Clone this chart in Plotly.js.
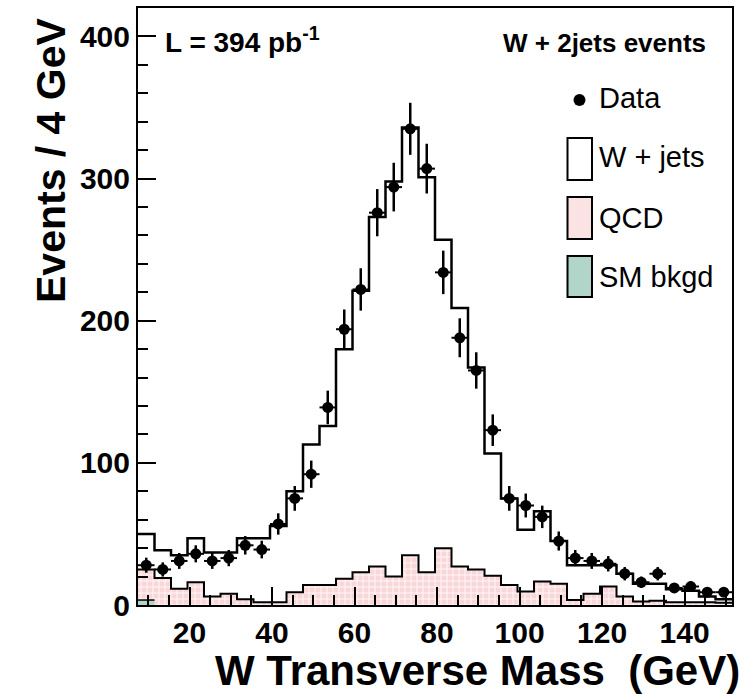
<!DOCTYPE html>
<html>
<head>
<meta charset="utf-8">
<script src="https://cdn.plot.ly/plotly-3.0.1.min.js"></script>
<style>
  html, body { margin: 0; padding: 0; background: #ffffff; }
  #chart { width: 747px; height: 694px; }
</style>
</head>
<body>
<div id="chart"></div>
<script>
// Transverse mass of W candidates in W + 2 jets events, 4 GeV bins
const binWidth = 4;
const binCenters = [9.5, 13.5, 17.5, 21.5, 25.5, 29.5, 33.5, 37.5, 41.5, 45.5,
                    49.5, 53.5, 57.5, 61.5, 65.5, 69.5, 73.5, 77.5, 81.5, 85.5,
                    89.5, 93.5, 97.5, 101.5, 105.5, 109.5, 113.5, 117.5, 121.5, 125.5,
                    129.5, 133.5, 137.5, 141.5, 145.5, 149.5];

// Observed events per bin and their statistical uncertainties
const dataCounts = [28, 25, 31, 36, 31, 33, 42, 39, 57, 75,
                    92, 139, 194, 222, 276, 294, 335, 307, 234, 188,
                    165, 123, 75, 70, 62, 45, 33, 31, 29, 22,
                    16, 22, 12, 13, 9, 9];
const dataErrors = [5.3, 5.0, 5.6, 6.0, 5.6, 5.7, 6.5, 6.2, 7.5, 8.7,
                    9.6, 11.8, 13.9, 14.9, 16.6, 17.1, 18.3, 17.5, 15.3, 13.7,
                    12.8, 11.1, 8.7, 8.4, 7.9, 6.7, 5.7, 5.6, 5.4, 4.7,
                    4.0, 4.7, 3.5, 3.6, 3.0, 3.0];

// Expectation: W + jets stacked on top of the backgrounds (top of the stack)
const wJetsStack = [50, 38.5, 35, 47, 37, 37, 47, 47, 55.5, 80,
                    113, 126, 180, 221, 273, 298, 336, 301, 257, 209,
                    167, 106.5, 75, 53, 66, 45, 28, 28, 28, 22,
                    15, 15, 11, 10, 6, 4];
// QCD multijet background
const qcd = [25, 19, 11.5, 16, 6, 8, 4, 2, 2, 9,
             14, 14, 18.5, 23, 27, 20, 35, 23, 40, 27,
             25, 20.5, 14, 9.5, 16.5, 15, 3.5, 8, 13, 6,
             2.5, 3, 2, 2, 2, 1.5];
// Other Standard Model backgrounds
const smBkgd = [3.5, 0, 0, 0, 0, 0, 0, 0, 0, 0,
                0, 0, 0, 0, 0, 0, 0, 0, 0, 0,
                0, 0, 0, 0, 0, 0, 0, 0, 0, 0,
                0, 0, 0, 0, 0, 0];

const xTickVals = [20, 40, 60, 80, 100, 120, 140];
const yTickVals = [0, 100, 200, 300, 400];

const legendLabels = ['Data', 'W + jets', 'QCD', 'SM bkgd'];

const FONT = 'Liberation Sans, Arial, Helvetica, sans-serif';
const PINK = '#f9d6d8';
const TEAL = '#b2d5ca';

// step-histogram path: bin edges with the last value repeated for 'hv' lines
function edgesOf(centers) {
  const e = centers.map(c => c - binWidth / 2);
  e.push(centers[centers.length - 1] + binWidth / 2);
  return e;
}
function stepY(vals) { return vals.concat([vals[vals.length - 1]]); }

const edges = edgesOf(binCenters);

const traces = [
  {
    type: 'scatter', mode: 'lines', x: edges, y: stepY(qcd),
    line: { shape: 'hv', color: '#000', width: 2 },
    fill: 'tozeroy', fillcolor: PINK,
    fillpattern: { shape: '+', bgcolor: PINK, fgcolor: '#ffffff', size: 6, solidity: 0.25 },
    hoverinfo: 'skip', showlegend: false
  },
  {
    type: 'scatter', mode: 'lines', x: edges.slice(0, 2), y: smBkgd.slice(0, 1).concat(smBkgd.slice(0, 1)),
    line: { shape: 'hv', color: '#000', width: 1.5 },
    fill: 'tozeroy', fillcolor: TEAL,
    hoverinfo: 'skip', showlegend: false
  },
  {
    type: 'scatter', mode: 'lines', x: edges, y: stepY(wJetsStack),
    line: { shape: 'hv', color: '#000', width: 2.5 },
    hoverinfo: 'skip', showlegend: false
  },
  {
    type: 'scatter', mode: 'markers', x: binCenters, y: dataCounts,
    marker: { symbol: 'circle', size: 11, color: '#000' },
    error_y: { type: 'data', array: dataErrors, visible: true, color: '#000', thickness: 2.5, width: 0 },
    error_x: { type: 'constant', value: binWidth / 2, visible: true, color: '#000', thickness: 2, width: 0 },
    showlegend: false
  }
];

// pixel -> paper helpers for the plot frame (138..732 x 8..605)
const PL = 138, PR = 732, PT = 8, PB = 605;
const px = x => (x - PL) / (PR - PL);
const py = y => (PB - y) / (PB - PT);

const shapes = [
  // legend markers
  { type: 'circle', xref: 'paper', yref: 'paper', x0: px(573.5), x1: px(585.5), y0: py(106), y1: py(94),
    fillcolor: '#000', line: { color: '#000', width: 0 } },
  { type: 'rect', xref: 'paper', yref: 'paper', x0: px(567.5), x1: px(592), y0: py(180), y1: py(138),
    fillcolor: '#ffffff', line: { color: '#000', width: 2 } },
  { type: 'rect', xref: 'paper', yref: 'paper', x0: px(567.5), x1: px(592), y0: py(239), y1: py(197),
    fillcolor: '#fbe2e3', line: { color: '#000', width: 2 } },
  { type: 'rect', xref: 'paper', yref: 'paper', x0: px(567.5), x1: px(592), y0: py(297), y1: py(256),
    fillcolor: TEAL, line: { color: '#000', width: 2 } }
];

const legendY = [98, 157, 218, 277];
const annotations = legendLabels.map((t, i) => ({
  text: t, xref: 'paper', yref: 'paper', x: px(597), y: py(legendY[i]),
  xanchor: 'left', yanchor: 'middle', showarrow: false,
  font: { family: FONT, size: 29, color: '#000' }
}));

annotations.push(
  { text: 'L = 394 pb<sup>-1</sup>', xref: 'paper', yref: 'paper', x: px(163), y: py(40),
    xanchor: 'left', yanchor: 'middle', showarrow: false,
    font: { family: FONT, size: 28, color: '#000', weight: 'bold' } },
  { text: 'W + 2jets events', xref: 'paper', yref: 'paper', x: px(708), y: py(43),
    xanchor: 'right', yanchor: 'middle', showarrow: false,
    font: { family: FONT, size: 26, color: '#000', weight: 'bold' } },
  { text: 'Events / 4 GeV', xref: 'paper', yref: 'paper', x: px(51), y: py(160),
    xanchor: 'center', yanchor: 'middle', textangle: -90, showarrow: false,
    font: { family: FONT, size: 41, color: '#000', weight: 'bold' } },
  { text: 'W Transverse Mass\u00a0\u00a0(GeV)', xref: 'paper', yref: 'paper', x: px(742), y: py(670),
    xanchor: 'right', yanchor: 'middle', showarrow: false,
    font: { family: FONT, size: 42, color: '#000', weight: 'bold' } }
);

const layout = {
  width: 747, height: 694,
  margin: { l: PL, r: 747 - PR, t: PT, b: 694 - PB, pad: 0 },
  paper_bgcolor: '#ffffff', plot_bgcolor: '#ffffff',
  showlegend: false,
  font: { family: FONT, color: '#000' },
  xaxis: {
    range: [edges[0], edges[edges.length - 1]],
    tickmode: 'array', tickvals: xTickVals,
    ticks: 'inside', ticklen: 18, tickwidth: 2, tickcolor: '#000',
    minor: { tick0: 0, dtick: 5, ticks: 'inside', ticklen: 10, tickwidth: 2, tickcolor: '#000', showgrid: false },
    showline: true, linewidth: 2, linecolor: '#000', mirror: true,
    showgrid: false, zeroline: false,
    tickfont: { family: FONT, size: 30, color: '#000', weight: 'bold' }
  },
  yaxis: {
    range: [0, 420],
    tickmode: 'array', tickvals: yTickVals,
    ticks: 'inside', ticklen: 18, tickwidth: 2, tickcolor: '#000',
    minor: { tick0: 0, dtick: 20, ticks: 'inside', ticklen: 10, tickwidth: 2, tickcolor: '#000', showgrid: false },
    showline: true, linewidth: 2, linecolor: '#000', mirror: true,
    showgrid: false, zeroline: false,
    tickfont: { family: FONT, size: 30, color: '#000', weight: 'bold' }
  },
  shapes: shapes,
  annotations: annotations
};

Plotly.newPlot('chart', traces, layout, { staticPlot: true, displayModeBar: false });
</script>
</body>
</html>
